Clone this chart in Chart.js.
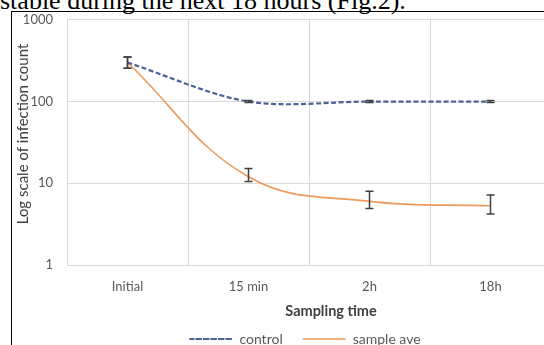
<!DOCTYPE html>
<html>
<head>
<meta charset="utf-8">
<script src="https://cdn.jsdelivr.net/npm/chart.js@4"></script>
<style>
  html, body { margin: 0; padding: 0; background: #fff; overflow: hidden; width: 544px; height: 345px; }
  #caption { position: absolute; left: 0; top: -12px; font-family: "Liberation Serif", serif; font-size: 26px; line-height: 26px; color: #000; white-space: nowrap; }
  #frame { position: absolute; left: 11px; top: 11px; width: 650px; height: 400px; border-top: 1.5px solid #000; border-left: 1.5px solid #000; }
  #wrap { position: absolute; left: 13px; top: -2px; width: 538px; height: 358px; }
</style>
</head>
<body>
<div id="caption">stable during the next 18 hours (Fig.2).</div>
<div id="frame"></div>
<div id="wrap"><canvas id="chart"></canvas></div>
<script>
// data
const categories = ["Initial", "15 min", "2h", "18h"];
const controlValues = [300, 100, 100, 100];
const controlLow = [255, 97, 97, 97];
const controlHigh = [350, 103, 103, 103];
const sampleValues = [300, 12, 6, 5.3];
const sampleLow = [255, 10.5, 4.9, 4.2];
const sampleHigh = [350, 15.2, 8.0, 7.2];
const yTicks = [1, 10, 100, 1000];

const errors = [
  { low: controlLow, high: controlHigh },
  { low: sampleLow, high: sampleHigh },
];

const font = "Lato";

// error bars drawn with the chart's scales
const errorBars = {
  id: "errorBars",
  afterDatasetsDraw(chart) {
    const ctx = chart.ctx;
    const x = chart.scales.x;
    const y = chart.scales.y;
    ctx.save();
    ctx.strokeStyle = "#404040";
    ctx.lineWidth = 1.5;
    errors.forEach((e) => {
      e.low.forEach((lo, i) => {
        const px = x.getPixelForValue(i);
        const top = y.getPixelForValue(e.high[i]);
        const bot = y.getPixelForValue(lo);
        ctx.beginPath();
        ctx.moveTo(px, top);
        ctx.lineTo(px, bot);
        ctx.moveTo(px - 4, top);
        ctx.lineTo(px + 4, top);
        ctx.moveTo(px - 4, bot);
        ctx.lineTo(px + 4, bot);
        ctx.stroke();
      });
    });
    ctx.restore();
  },
};

// axis titles are placed off-centre in the original, so draw them here
const axisTitles = {
  id: "axisTitles",
  afterDraw(chart) {
    const ctx = chart.ctx;
    ctx.save();
    ctx.fillStyle = "#404040";
    ctx.textAlign = "center";
    ctx.textBaseline = "middle";
    ctx.font = "bold 14.5px " + font;
    ctx.fillText("Sampling time", 318, 313);
    ctx.font = "15px " + font;
    ctx.translate(10, 136);
    ctx.rotate(-Math.PI / 2);
    ctx.fillText("Log scale of infection count", 0, 0);
    ctx.restore();
  },
};

// the legend in the original is centred a bit right of the canvas centre
const legendShift = {
  id: "legendShift",
  afterLayout(chart) {
    chart.legend.left += 23;
    chart.legend.right += 23;
  },
};

new Chart(document.getElementById("chart"), {
  type: "line",
  data: {
    labels: categories,
    datasets: [
      {
        label: "control",
        data: controlValues,
        borderColor: "#4d6296",
        backgroundColor: "#4d6296",
        borderWidth: 2.2,
        borderDash: [5, 2.5],
        tension: 0.32,
        pointRadius: 0,
      },
      {
        label: "sample ave",
        data: sampleValues,
        borderColor: "#ee9a5a",
        backgroundColor: "#ee9a5a",
        borderWidth: 1.6,
        tension: 0.4,
        pointRadius: 0,
      },
    ],
  },
  options: {
    responsive: true,
    maintainAspectRatio: false,
    animation: false,
    layout: { padding: { top: 7, right: 0, left: 0, bottom: 0 } },
    plugins: {
      legend: {
        position: "bottom",
        labels: {
          font: { family: font, size: 14 },
          color: "#595959",
          boxWidth: 43,
          boxHeight: 0,
          padding: 20,
        },
      },
      tooltip: { enabled: false },
    },
    scales: {
      x: {
        offset: true,
        grid: { offset: true, color: "#d9d9d9", drawTicks: false },
        border: { display: false },
        ticks: { font: { family: font, size: 13 }, color: "#595959", padding: 14 },
        afterFit(scale) { scale.height = 47; },
      },
      y: {
        type: "logarithmic",
        min: 1,
        max: 1000,
        grid: { color: "#d9d9d9", drawTicks: false },
        border: { display: false },
        afterBuildTicks(scale) { scale.ticks = yTicks.map((v) => ({ value: v })); },
        ticks: {
          font: { family: font, size: 13 },
          color: "#595959",
          padding: 14,
          callback: (v) => String(v),
        },
        afterFit(scale) { scale.width = 54; },
      },
    },
  },
  plugins: [errorBars, axisTitles, legendShift],
});
</script>
</body>
</html>
